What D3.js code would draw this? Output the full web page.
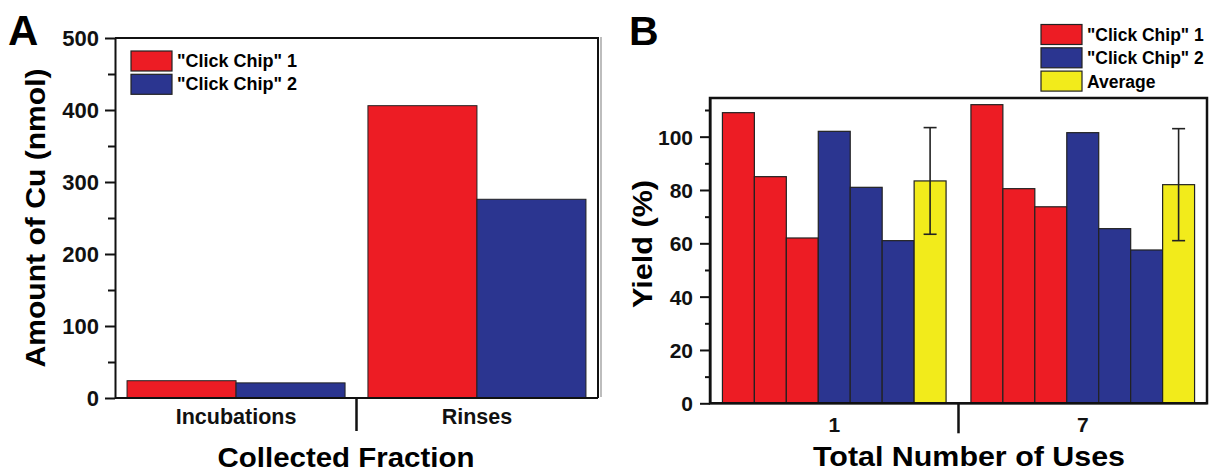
<!DOCTYPE html>
<html>
<head>
<meta charset="utf-8">
<script src="https://cdn.jsdelivr.net/npm/d3@7"></script>
<style>
  html, body { margin: 0; padding: 0; background: #fff; }
  svg { display: block; font-family: "Liberation Sans", Arial, Helvetica, sans-serif; font-weight: bold; }
</style>
</head>
<body>
<svg id="chart" width="1211" height="472"></svg>
<script>
// ---------- Data ----------
// Panel A
const fractions = ["Incubations", "Rinses"];
const cuChip1 = [24, 406];
const cuChip2 = [21, 276];
const cuTicks = [0, 100, 200, 300, 400, 500];
// Panel B
const uses = ["1", "7"];
const yieldChip1Use1 = [109, 85, 62];
const yieldChip2Use1 = [102, 81, 61];
const yieldChip1Use7 = [112, 80.5, 73.7];
const yieldChip2Use7 = [101.5, 65.5, 57.5];
const yieldAverage = [83.4, 82];
const yieldError = [20, 21];
const yieldTicks = [0, 20, 40, 60, 80, 100];
const seriesNames = ['"Click Chip" 1', '"Click Chip" 2', 'Average'];

const RED = "#ed1c24", BLUE = "#2b3590", YELLOW = "#f2eb1b", INK = "#111";
const svg = d3.select("#chart");

function styleAxis(g) {
  g.selectAll(".domain").attr("stroke", INK).attr("stroke-width", 2);
  g.selectAll(".tick line").attr("stroke", INK).attr("stroke-width", 2);
  g.selectAll("text").attr("fill", INK).attr("font-family", "Liberation Sans, Arial, sans-serif").attr("font-weight", "bold");
}

// ================= Panel A =================
{
  const L = 115, R = 598, T = 38, B = 398;
  const x = d3.scaleBand().domain(fractions).range([L, R]).paddingInner(0.095).paddingOuter(0.05);
  const y = d3.scaleLinear().domain([0, 500]).range([B, T]);
  const xs = d3.scaleBand().domain([0, 1]).range([0, x.bandwidth()]);
  const series = [cuChip1, cuChip2];
  const colors = [RED, BLUE];

  const g = svg.append("g");
  series.forEach((vals, s) => {
    g.selectAll(null).data(fractions).enter().append("rect")
      .attr("x", d => x(d) + xs(s))
      .attr("width", xs.bandwidth())
      .attr("y", (d, i) => y(vals[i]))
      .attr("height", (d, i) => y(0) - y(vals[i]))
      .attr("fill", colors[s]).attr("stroke", "#222").attr("stroke-width", 1);
  });

  // frame top/right
  g.append("path").attr("d", `M${L},${T}H${R}V${B}`).attr("fill", "none").attr("stroke", INK).attr("stroke-width", 2);

  // minor ticks
  const yMinor = d3.axisLeft(y).tickValues([50, 150, 250, 350, 450]).tickSize(7).tickFormat("");
  svg.append("g").attr("transform", `translate(${L},0)`).call(yMinor).call(styleAxis).select(".domain").remove();
  const yAxis = d3.axisLeft(y).tickValues(cuTicks).tickSize(10).tickPadding(6).tickSizeOuter(0);
  svg.append("g").attr("transform", `translate(${L},0)`).call(yAxis).call(styleAxis)
    .selectAll("text").attr("font-size", 22).attr("dy", "0.36em");

  const xAxis = d3.axisBottom(x).tickSize(0).tickPadding(11).tickSizeOuter(0);
  const xg = svg.append("g").attr("transform", `translate(0,${B})`).call(xAxis).call(styleAxis);
  xg.selectAll("text").attr("font-size", 21.5).attr("dy", "0.71em");
  xg.select(".domain").attr("d", `M${L},0H${R}`);
  // divider tick between categories
  const div = x(fractions[1]) - x.step() * x.paddingInner() / 2;
  xg.append("line").attr("x1", div).attr("x2", div).attr("y1", 0).attr("y2", 33).attr("stroke", INK).attr("stroke-width", 2.5);

  // titles
  svg.append("text").attr("x", 346).attr("y", 467).attr("text-anchor", "middle")
    .attr("font-size", 27).attr("textLength", 257).attr("lengthAdjust", "spacingAndGlyphs")
    .text("Collected Fraction");
  svg.append("text").attr("transform", `translate(45,218) rotate(-90)`).attr("text-anchor", "middle")
    .attr("font-size", 28).attr("textLength", 299).attr("lengthAdjust", "spacingAndGlyphs")
    .text("Amount of Cu (nmol)");
  svg.append("text").attr("x", 8).attr("y", 45).attr("font-size", 42).text("A");

  // legend
  const lg = svg.append("g");
  [0, 1].forEach(i => {
    lg.append("rect").attr("x", 131).attr("y", 51 + i * 23.3).attr("width", 41).attr("height", 20)
      .attr("fill", colors[i]).attr("stroke", "#222").attr("stroke-width", 1.2);
    lg.append("text").attr("x", 177).attr("y", 67 + i * 23.3).attr("font-size", 18).text(seriesNames[i]);
  });
}

// ================= Panel B =================
{
  const L = 710, R = 1207, T = 98, B = 403.3;
  const x = d3.scaleBand().domain(uses).range([L, R]).paddingInner(0.1).paddingOuter(0.05);
  const y = d3.scaleLinear().domain([0, 114.5]).range([B, T]);
  const xi = d3.scaleBand().domain(d3.range(7)).range([0, x.bandwidth()]);

  const groups = [
    { vals: [...yieldChip1Use1, ...yieldChip2Use1, yieldAverage[0]], err: yieldError[0] },
    { vals: [...yieldChip1Use7, ...yieldChip2Use7, yieldAverage[1]], err: yieldError[1] }
  ];
  const barColor = [RED, RED, RED, BLUE, BLUE, BLUE, YELLOW];

  const g = svg.append("g");
  groups.forEach((grp, gi) => {
    const x0 = x(uses[gi]);
    g.selectAll(null).data(grp.vals).enter().append("rect")
      .attr("x", (d, i) => x0 + xi(i))
      .attr("width", xi.bandwidth())
      .attr("y", d => y(d))
      .attr("height", d => y(0) - y(d))
      .attr("fill", (d, i) => barColor[i]).attr("stroke", "#222").attr("stroke-width", 1.2);
    // error bar on average
    const cx = x0 + xi(6) + xi.bandwidth() / 2;
    const avg = grp.vals[6];
    const e = grp.err;
    g.append("line").attr("x1", cx).attr("x2", cx).attr("y1", y(avg + e)).attr("y2", y(avg - e))
      .attr("stroke", "#222").attr("stroke-width", 1.6);
    [avg + e, avg - e].forEach(v => {
      g.append("line").attr("x1", cx - 6.5).attr("x2", cx + 6.5).attr("y1", y(v)).attr("y2", y(v))
        .attr("stroke", "#222").attr("stroke-width", 1.6);
    });
  });

  // frame
  g.append("rect").attr("x", L).attr("y", T).attr("width", R - L).attr("height", B - T)
    .attr("fill", "none").attr("stroke", INK).attr("stroke-width", 2.5);

  const yMinor = d3.axisLeft(y).tickValues([10, 30, 50, 70, 90, 110]).tickSize(5).tickFormat("");
  svg.append("g").attr("transform", `translate(${L},0)`).call(yMinor).call(styleAxis).select(".domain").remove();
  const yAxis = d3.axisLeft(y).tickValues(yieldTicks).tickSize(10).tickPadding(7).tickSizeOuter(0);
  svg.append("g").attr("transform", `translate(${L},0)`).call(yAxis).call(styleAxis)
    .selectAll("text").attr("font-size", 21).attr("dy", "0.36em");

  const xAxis = d3.axisBottom(x).tickSize(0).tickPadding(14).tickSizeOuter(0);
  const xg = svg.append("g").attr("transform", `translate(0,${B})`).call(xAxis).call(styleAxis);
  xg.selectAll("text").attr("font-size", 21).attr("dy", "0.71em");
  xg.select(".domain").attr("d", `M${L},0H${R}`);
  const div = x(uses[1]) - x.step() * x.paddingInner() / 2;
  xg.append("line").attr("x1", div).attr("x2", div).attr("y1", 0).attr("y2", 30).attr("stroke", INK).attr("stroke-width", 2.5);

  svg.append("text").attr("x", 969).attr("y", 466).attr("text-anchor", "middle")
    .attr("font-size", 27).attr("textLength", 312).attr("lengthAdjust", "spacingAndGlyphs")
    .text("Total Number of Uses");
  svg.append("text").attr("transform", `translate(652,244) rotate(-90)`).attr("text-anchor", "middle")
    .attr("font-size", 28).attr("textLength", 128).attr("lengthAdjust", "spacingAndGlyphs")
    .text("Yield (%)");
  svg.append("text").attr("x", 629).attr("y", 45).attr("font-size", 41).text("B");

  const colors = [RED, BLUE, YELLOW];
  const lg = svg.append("g");
  [0, 1, 2].forEach(i => {
    lg.append("rect").attr("x", 1041).attr("y", 24.5 + i * 23.3).attr("width", 41).attr("height", 20)
      .attr("fill", colors[i]).attr("stroke", "#222").attr("stroke-width", 1.2);
    lg.append("text").attr("x", 1087).attr("y", 41 + i * 23.3).attr("font-size", 17.5).text(seriesNames[i]);
  });
}

// faint separator between panels
svg.append("line").attr("x1", 601).attr("x2", 601).attr("y1", 37).attr("y2", 397)
  .attr("stroke", "#bdbdbd").attr("stroke-width", 2);
</script>
</body>
</html>
